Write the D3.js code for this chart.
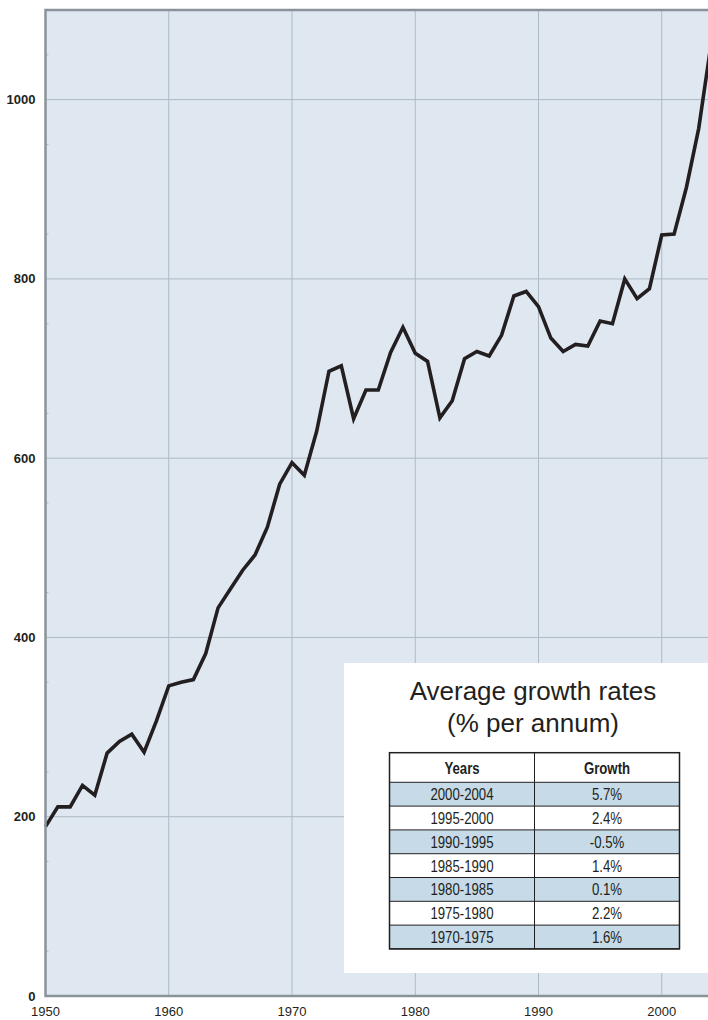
<!DOCTYPE html>
<html>
<head>
<meta charset="utf-8">
<script src="https://cdn.jsdelivr.net/npm/d3@7"></script>
<style>
  body { margin: 0; background: #ffffff; }
  svg { display: block; }
  .ylab { font-family: "Liberation Sans", Arial, sans-serif; font-weight: bold; font-size: 13px; fill: #231f20; }
  .xlab { font-family: "Liberation Sans", Arial, sans-serif; font-size: 13px; fill: #231f20; }
  .cell { font-family: "Liberation Sans", Arial, sans-serif; font-size: 16.5px; fill: #231f20; }
</style>
</head>
<body>
<div id="chart"></div>
<script>
// Yearly series
const years = [1950, 1951, 1952, 1953, 1954, 1955, 1956, 1957, 1958, 1959,
               1960, 1961, 1962, 1963, 1964, 1965, 1966, 1967, 1968, 1969,
               1970, 1971, 1972, 1973, 1974, 1975, 1976, 1977, 1978, 1979,
               1980, 1981, 1982, 1983, 1984, 1985, 1986, 1987, 1988, 1989,
               1990, 1991, 1992, 1993, 1994, 1995, 1996, 1997, 1998, 1999,
               2000, 2001, 2002, 2003, 2004];
const values = [189, 211, 211, 235, 224, 271, 284, 292, 272, 307,
                346, 350, 353, 382, 433, 454, 475, 492, 523, 571,
                595, 581, 630, 697, 703, 644, 676, 676, 718, 746,
                717, 708, 645, 664, 711, 719, 714, 737, 781, 786,
                769, 734, 719, 727, 725, 753, 750, 800, 778, 789,
                849, 850, 902, 968, 1062];

const xTicks = [1950, 1960, 1970, 1980, 1990, 2000];
const yTicks = [0, 200, 400, 600, 800, 1000];

// Inset table
const tableTitle = ["Average growth rates", "(% per annum)"];
const tableHeader = ["Years", "Growth"];
const periods = ["2000-2004", "1995-2000", "1990-1995", "1985-1990", "1980-1985", "1975-1980", "1970-1975"];
const growth = ["5.7%", "2.4%", "-0.5%", "1.4%", "0.1%", "2.2%", "1.6%"];

function createChart() {
    const W = 708, H = 1020;
    const left = 45.5, top = 10, bottom = 996;

    const svg = d3.select("#chart").append("svg")
        .attr("width", W)
        .attr("height", H);

    const x = d3.scaleLinear().domain([1950, 2004]).range([left, left + 54 * 12.325]);
    const y = d3.scaleLinear().domain([0, 1100]).range([bottom, top]);

    // plot background
    svg.append("rect")
        .attr("x", left).attr("y", top)
        .attr("width", W - left).attr("height", bottom - top)
        .attr("fill", "#dfe8f1");

    // grid lines
    svg.append("g").selectAll("line.vgrid")
        .data(xTicks.filter(d => d > 1950))
        .enter().append("line")
        .attr("x1", d => x(d)).attr("x2", d => x(d))
        .attr("y1", top).attr("y2", bottom)
        .attr("stroke", "#aeb9c3").attr("stroke-width", 1);

    svg.append("g").selectAll("line.hgrid")
        .data(yTicks.filter(d => d > 0))
        .enter().append("line")
        .attr("x1", left).attr("x2", W)
        .attr("y1", d => y(d)).attr("y2", d => y(d))
        .attr("stroke", "#aeb9c3").attr("stroke-width", 1);

    // minor ticks on the left axis (every 50)
    svg.append("g").selectAll("line")
        .data(d3.range(50, 1100, 100))
        .enter().append("line")
        .attr("x1", left).attr("x2", left + 3)
        .attr("y1", d => y(d)).attr("y2", d => y(d))
        .attr("stroke", "#aeb9c3").attr("stroke-width", 1);

    // inset box with the growth table
    const box = svg.append("g");
    box.append("rect")
        .attr("x", 344).attr("y", 663)
        .attr("width", W - 344).attr("height", 310)
        .attr("fill", "#ffffff");

    box.selectAll("text.title")
        .data(tableTitle)
        .enter().append("text")
        .attr("x", 533)
        .attr("y", (d, i) => 700 + i * 31.5)
        .attr("text-anchor", "middle")
        .style("font-family", "'Liberation Sans', Arial, sans-serif")
        .style("font-size", "26px")
        .style("fill", "#231f20")
        .text(d => d);

    const tx = 389.5, colW = 145, headH = 29.6, rowH = 23.8, ty = 752.7;
    const rows = periods.map((p, i) => ({ period: p, growth: growth[i], i: i }));
    const narrow = (cx, cy) => `translate(${cx},${cy}) scale(0.8,1)`;

    // header
    box.append("rect")
        .attr("x", tx).attr("y", ty)
        .attr("width", colW * 2).attr("height", headH)
        .attr("fill", "#ffffff");
    box.selectAll("text.head")
        .data(tableHeader)
        .enter().append("text")
        .attr("class", "cell")
        .attr("transform", (d, i) => narrow(tx + colW * i + colW / 2, ty + headH / 2 + 6))
        .attr("text-anchor", "middle")
        .style("font-weight", "bold")
        .text(d => d);

    // rows
    box.selectAll("rect.row")
        .data(rows)
        .enter().append("rect")
        .attr("x", tx)
        .attr("y", d => ty + headH + d.i * rowH)
        .attr("width", colW * 2).attr("height", rowH)
        .attr("fill", d => d.i % 2 === 0 ? "#c6dae7" : "#ffffff");

    box.selectAll("text.period")
        .data(rows)
        .enter().append("text")
        .attr("class", "cell")
        .attr("transform", d => narrow(tx + colW / 2, ty + headH + d.i * rowH + rowH / 2 + 6))
        .attr("text-anchor", "middle")
        .text(d => d.period);

    box.selectAll("text.growth")
        .data(rows)
        .enter().append("text")
        .attr("class", "cell")
        .attr("transform", d => narrow(tx + colW * 1.5, ty + headH + d.i * rowH + rowH / 2 + 6))
        .attr("text-anchor", "middle")
        .text(d => d.growth);

    // table rules
    const tableBottom = ty + headH + rows.length * rowH;
    box.selectAll("line.hrule")
        .data(d3.range(rows.length + 1))
        .enter().append("line")
        .attr("x1", tx).attr("x2", tx + colW * 2)
        .attr("y1", i => ty + headH + i * rowH).attr("y2", i => ty + headH + i * rowH)
        .attr("stroke", "#231f20").attr("stroke-width", 1);
    box.append("line")
        .attr("x1", tx + colW).attr("x2", tx + colW)
        .attr("y1", ty).attr("y2", tableBottom)
        .attr("stroke", "#231f20").attr("stroke-width", 1);
    box.append("rect")
        .attr("x", tx).attr("y", ty)
        .attr("width", colW * 2).attr("height", tableBottom - ty)
        .attr("fill", "none")
        .attr("stroke", "#231f20").attr("stroke-width", 1.5);

    // the series line
    const line = d3.line()
        .x((d, i) => x(years[i]))
        .y(d => y(d));

    svg.append("path")
        .datum(values)
        .attr("d", line)
        .attr("fill", "none")
        .attr("stroke", "#231f20")
        .attr("stroke-width", 3.6)
        .attr("stroke-linejoin", "miter");

    // frame: top, left, bottom
    svg.append("path")
        .attr("d", `M${W},${top} H${left} V${bottom} H${W}`)
        .attr("stroke", "#8a939a")
        .attr("stroke-width", 2.5)
        .attr("fill", "none");

    // y labels
    svg.append("g").selectAll("text")
        .data(yTicks)
        .enter().append("text")
        .attr("class", "ylab")
        .attr("x", left - 10)
        .attr("y", d => y(d))
        .attr("dy", "0.35em")
        .attr("text-anchor", "end")
        .text(d => d);

    // x labels
    svg.append("g").selectAll("text")
        .data(xTicks)
        .enter().append("text")
        .attr("class", "xlab")
        .attr("x", d => x(d))
        .attr("y", 1016)
        .attr("text-anchor", "middle")
        .text(d => d);
}

createChart();
</script>
</body>
</html>
